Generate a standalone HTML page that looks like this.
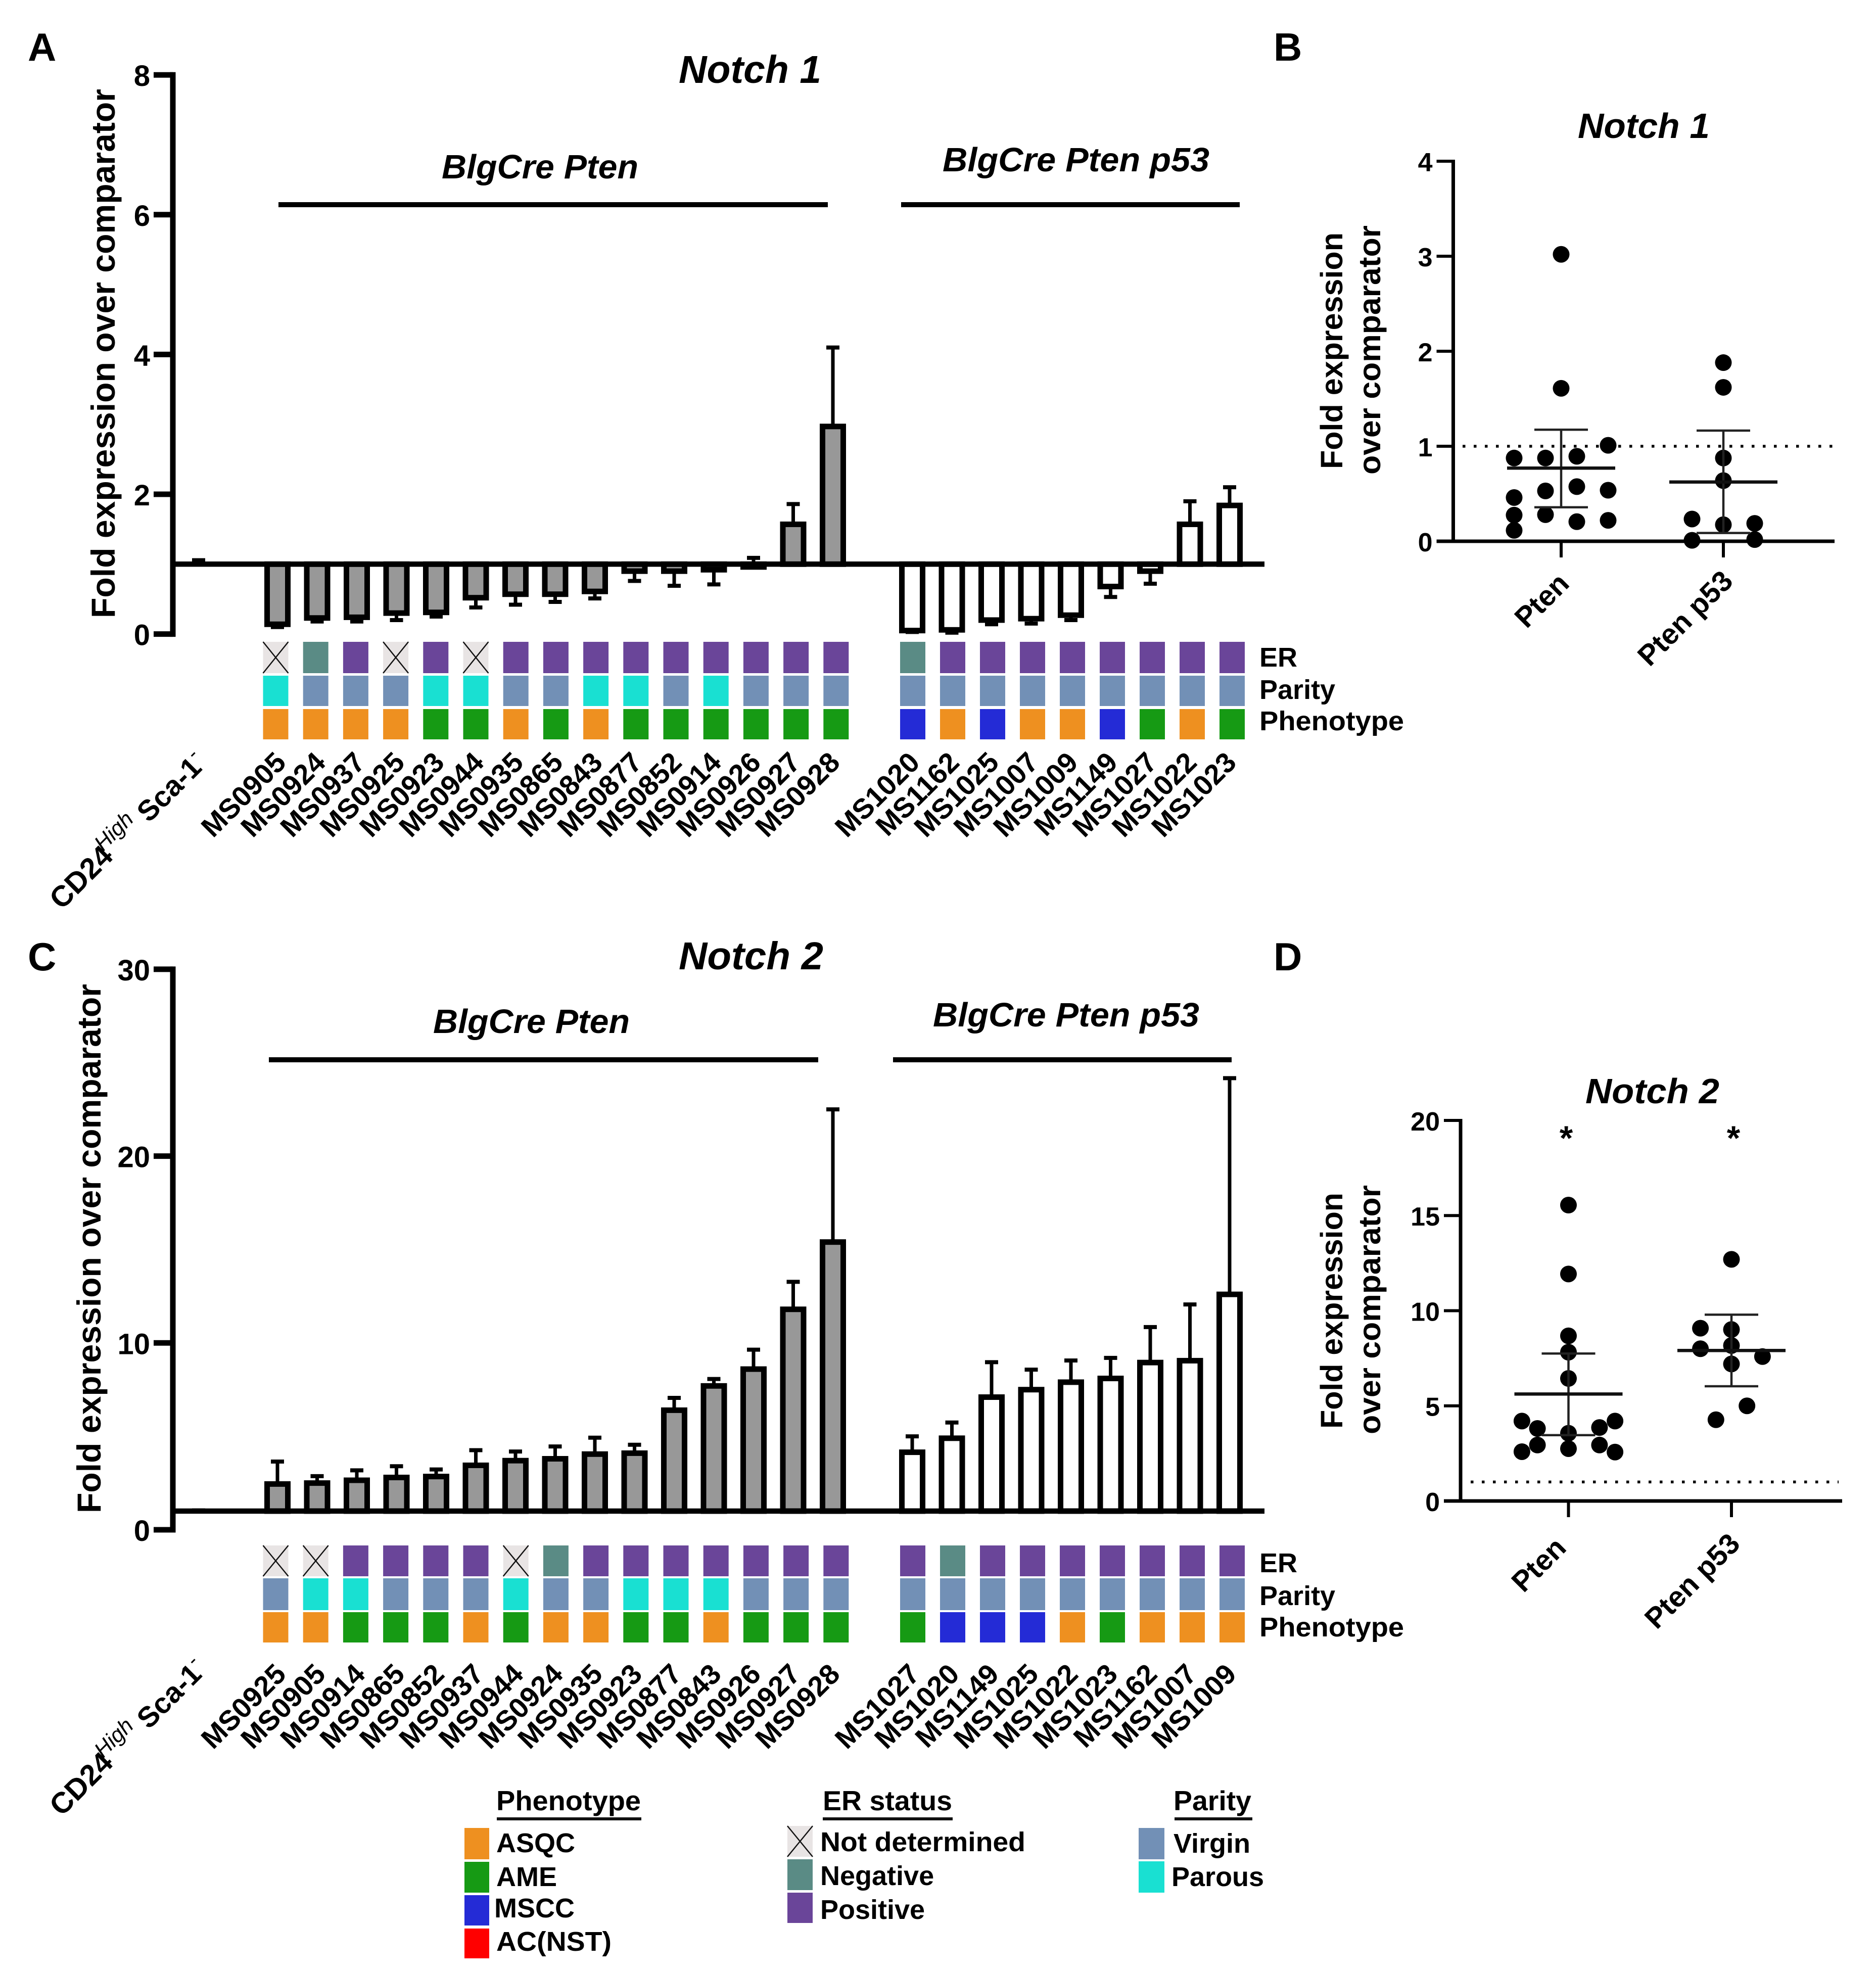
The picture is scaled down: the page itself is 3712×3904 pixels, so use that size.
<!DOCTYPE html>
<html lang="en">
<head>
<meta charset="utf-8">
<title>Notch 1 and Notch 2 expression</title>
<style>
html,body{margin:0;padding:0;background:#fff;}
svg{display:block;}
text{font-family:"Liberation Sans",Arial,sans-serif;font-weight:700;fill:#000;}
.it{font-style:italic;}
</style>
</head>
<body>
<svg id="fig" xmlns="http://www.w3.org/2000/svg" width="3712" height="3904" viewBox="0 0 3712 3904">
  <rect width="3712" height="3904" fill="#ffffff"/>

  <!-- panel letters -->
  <text x="55" y="120" font-size="78">A</text>
  <text x="2520" y="120" font-size="78">B</text>
  <text x="55" y="1920" font-size="78">C</text>
  <text x="2520" y="1920" font-size="78">D</text>

  <!-- panel A static text -->
  <text class="it" x="1343" y="164" font-size="77" textLength="282" lengthAdjust="spacingAndGlyphs">Notch 1</text>
  <text class="it" x="874" y="353" font-size="67" textLength="389" lengthAdjust="spacingAndGlyphs">BlgCre Pten</text>
  <text class="it" x="1865" y="339" font-size="67" textLength="528" lengthAdjust="spacingAndGlyphs">BlgCre Pten p53</text>
  <rect x="551" y="400" width="1087" height="10" fill="#000"/>
  <rect x="1783" y="400" width="670" height="10" fill="#000"/>
  <text transform="translate(227,1223) rotate(-90)" font-size="66" textLength="1047" lengthAdjust="spacingAndGlyphs">Fold expression over comparator</text>
  <text x="2492" y="1319" font-size="54">ER</text>
  <text x="2492" y="1383" font-size="54">Parity</text>
  <text x="2492" y="1445" font-size="54" textLength="286" lengthAdjust="spacingAndGlyphs">Phenotype</text>

  <!-- panel C static text -->
  <text class="it" x="1343" y="1918" font-size="77" textLength="286" lengthAdjust="spacingAndGlyphs">Notch 2</text>
  <text class="it" x="857" y="2044" font-size="67" textLength="389" lengthAdjust="spacingAndGlyphs">BlgCre Pten</text>
  <text class="it" x="1846" y="2031" font-size="67" textLength="527" lengthAdjust="spacingAndGlyphs">BlgCre Pten p53</text>
  <rect x="532" y="2092" width="1087" height="10" fill="#000"/>
  <rect x="1767" y="2092" width="670" height="10" fill="#000"/>
  <text transform="translate(199,2994) rotate(-90)" font-size="66" textLength="1047" lengthAdjust="spacingAndGlyphs">Fold expression over comparator</text>
  <text x="2492" y="3111" font-size="54">ER</text>
  <text x="2492" y="3176" font-size="54">Parity</text>
  <text x="2492" y="3238" font-size="54" textLength="286" lengthAdjust="spacingAndGlyphs">Phenotype</text>

  <!-- panel B static text -->
  <text class="it" x="3122" y="273" font-size="70" textLength="261" lengthAdjust="spacingAndGlyphs">Notch 1</text>
  <text transform="translate(2656,928) rotate(-90)" font-size="61" textLength="468" lengthAdjust="spacingAndGlyphs">Fold expression</text>
  <text transform="translate(2731,939) rotate(-90)" font-size="61" textLength="493" lengthAdjust="spacingAndGlyphs">over comparator</text>

  <!-- panel D static text -->
  <text class="it" x="3137" y="2183" font-size="70" textLength="265" lengthAdjust="spacingAndGlyphs">Notch 2</text>
  <text transform="translate(2656,2827) rotate(-90)" font-size="61" textLength="467" lengthAdjust="spacingAndGlyphs">Fold expression</text>
  <text transform="translate(2731,2838) rotate(-90)" font-size="61" textLength="493" lengthAdjust="spacingAndGlyphs">over comparator</text>
  <text x="3099" y="2275" font-size="68" text-anchor="middle">*</text>
  <text x="3430" y="2275" font-size="68" text-anchor="middle">*</text>

  <!-- legends -->
  <g>
    <text x="982" y="3582" font-size="55" textLength="286" lengthAdjust="spacingAndGlyphs">Phenotype</text>
    <rect x="983" y="3596" width="286" height="6" fill="#111"/>
    <rect x="919" y="3617" width="49" height="62" fill="#EE9020"/>
    <rect x="919" y="3684" width="49" height="61" fill="#169A14"/>
    <rect x="919" y="3750" width="49" height="60" fill="#242BD6"/>
    <rect x="919" y="3816" width="49" height="59" fill="#FF0000"/>
    <text x="982" y="3665" font-size="54">ASQC</text>
    <text x="982" y="3732" font-size="54">AME</text>
    <text x="978" y="3794" font-size="54">MSCC</text>
    <text x="982" y="3860" font-size="54" textLength="228" lengthAdjust="spacingAndGlyphs">AC(NST)</text>
  </g>
  <g>
    <text x="1628" y="3582" font-size="55" textLength="256" lengthAdjust="spacingAndGlyphs">ER status</text>
    <rect x="1628" y="3596" width="257" height="6" fill="#111"/>
    <rect x="1558" y="3613" width="50" height="61" fill="#E8E4E4"/>
    <path d="M1558 3613L1608 3674M1608 3613L1558 3674" stroke="#111" stroke-width="2.5" fill="none"/>
    <rect x="1558" y="3679" width="50" height="61" fill="#5A8B85"/>
    <rect x="1558" y="3745" width="50" height="60" fill="#6A4599"/>
    <text x="1623" y="3663" font-size="54" textLength="406" lengthAdjust="spacingAndGlyphs">Not determined</text>
    <text x="1623" y="3730" font-size="54">Negative</text>
    <text x="1623" y="3797" font-size="54">Positive</text>
  </g>
  <g>
    <text x="2322" y="3582" font-size="55" textLength="154" lengthAdjust="spacingAndGlyphs">Parity</text>
    <rect x="2324" y="3596" width="154" height="6" fill="#111"/>
    <rect x="2253" y="3617" width="51" height="62" fill="#7290B6"/>
    <rect x="2253" y="3683" width="51" height="62" fill="#19E0D2"/>
    <text x="2322" y="3666" font-size="54">Virgin</text>
    <text x="2318" y="3732" font-size="54">Parous</text>
  </g>
</svg>

<script>
// ---------- Panel A data (Notch 1 bars) ----------
const aTicks = [0, 2, 4, 6, 8];
const aComparatorValue = 1.0;
const aComparatorError = 1.06;
const aPtenLabels = ['MS0905','MS0924','MS0937','MS0925','MS0923','MS0944','MS0935','MS0865','MS0843','MS0877','MS0852','MS0914','MS0926','MS0927','MS0928'];
const aPtenValues = [0.14,0.23,0.24,0.30,0.31,0.52,0.57,0.57,0.61,0.90,0.90,0.92,0.96,1.57,2.97];
const aPtenErrors = [0.10,0.18,0.18,0.20,0.25,0.38,0.42,0.46,0.51,0.76,0.69,0.71,1.09,1.86,4.10];
const aP53Labels = ['MS1020','MS1162','MS1025','MS1007','MS1009','MS1149','MS1027','MS1022','MS1023'];
const aP53Values = [0.05,0.06,0.20,0.22,0.27,0.68,0.90,1.57,1.84];
const aP53Errors = [0.03,0.02,0.14,0.15,0.20,0.53,0.72,1.90,2.10];
const aPtenEr = ['x','n','p','x','p','x','p','p','p','p','p','p','p','p','p'];
const aPtenParity = ['P','V','V','V','P','P','V','V','P','P','V','P','V','V','V'];
const aPtenPhenotype = ['o','o','o','o','g','g','o','g','o','g','g','g','g','g','g'];
const aP53Er = ['n','p','p','p','p','p','p','p','p'];
const aP53Parity = ['V','V','V','V','V','V','V','V','V'];
const aP53Phenotype = ['b','o','b','o','o','b','g','o','g'];

// ---------- Panel C data (Notch 2 bars) ----------
const cTicks = [0, 10, 20, 30];
const cComparatorValue = 1.0;
const cComparatorError = 1.05;
const cPtenLabels = ['MS0925','MS0905','MS0914','MS0865','MS0852','MS0937','MS0944','MS0924','MS0935','MS0923','MS0877','MS0843','MS0926','MS0927','MS0928'];
const cPtenValues = [2.45,2.5,2.65,2.8,2.85,3.45,3.7,3.8,4.05,4.1,6.4,7.7,8.6,11.8,15.4];
const cPtenErrors = [3.65,2.87,3.18,3.4,3.23,4.26,4.19,4.46,4.93,4.55,7.06,8.07,9.64,13.27,22.5];
const cP53Labels = ['MS1027','MS1020','MS1149','MS1025','MS1022','MS1023','MS1162','MS1007','MS1009'];
const cP53Values = [4.15,4.9,7.1,7.5,7.9,8.1,8.95,9.05,12.6];
const cP53Errors = [5.0,5.74,8.97,8.57,9.06,9.2,10.85,12.06,24.17];
const cPtenEr = ['x','x','p','p','p','p','x','n','p','p','p','p','p','p','p'];
const cPtenParity = ['V','P','P','V','V','V','P','V','V','P','P','P','V','V','V'];
const cPtenPhenotype = ['o','o','g','g','g','o','g','o','o','g','g','o','g','g','g'];
const cP53Er = ['p','n','p','p','p','p','p','p','p'];
const cP53Parity = ['V','V','V','V','V','V','V','V','V'];
const cP53Phenotype = ['g','b','b','b','o','g','o','o','o'];

// ---------- Panel B data (Notch 1 scatter) ----------
const bTicks = [0, 1, 2, 3, 4];
const bGroups = ['Pten', 'Pten p53'];
const bPtenValues = [3.02,1.61,0.876,0.876,0.894,1.01,0.46,0.53,0.575,0.537,0.275,0.28,0.206,0.22,0.115];
const bPtenColumns = [0,0,-3,-1,1,3,-3,-1,1,3,-3,-1,1,3,-3];
const bP53Values = [1.88,1.62,0.876,0.638,0.234,0.174,0.188,0.01,0.018];
const bP53Columns = [0,0,0,0,-2,0,2,-2,2];
const bMeans = [0.77, 0.624];
const bUppers = [1.174, 1.165];
const bLowers = [0.358, 0.087];

// ---------- Panel D data (Notch 2 scatter) ----------
const dTicks = [0, 5, 10, 15, 20];
const dGroups = ['Pten', 'Pten p53'];
const dPtenValues = [15.55,11.93,8.68,7.82,6.44,4.2,3.81,3.56,3.86,4.2,2.94,2.75,2.94,2.59,2.57];
const dPtenColumns = [0,0,0,0,0,-3,-2,0,2,3,-2,0,2,-3,3];
const dP53Values = [12.7,9.08,9.01,8.0,8.17,7.59,7.2,5.0,4.27];
const dP53Columns = [0,-2,0,-2,0,2,0,1,-1];
const dMeans = [5.62, 7.91];
const dUppers = [7.75, 9.79];
const dLowers = [3.46, 6.03];

const svg = document.getElementById('fig');
const NS = 'http://www.w3.org/2000/svg';
function mk(tag, attrs, parent) {
  const el = document.createElementNS(NS, tag);
  for (const k in attrs) el.setAttribute(k, attrs[k]);
  (parent || svg).appendChild(el);
  return el;
}

// axis functions
const yA = v => 1254.6 - 138.3 * v;
const yC = v => 3027 - 36.97 * v;
const yB = v => 1071 - 188 * v;
const yD = v => 2970 - 37.65 * v;
const barXPten = i => 549 + 78.5 * i;
const barXP53 = i => 1805 + 78.5 * i;
const cellXPten = i => 520.5 + 79.2 * i;
const cellXP53 = i => 1781 + 79 * i;
const labelXPten = i => 569 + 78.3 * i;
const labelXP53 = i => 1823 + 78.3 * i;

const erFill = {x:'#E8E4E4', n:'#5A8B85', p:'#6A4599'};
const parityFill = {V:'#7290B6', P:'#19E0D2'};
const phenotypeFill = {o:'#EE9020', g:'#169A14', b:'#242BD6', r:'#FF0000'};

function drawYAxis(prefix, ticks, y, axisX, tickLeft, labelRight, thick, tickThick, fontSize) {
  const top = y(ticks[ticks.length - 1]);
  const bottom = y(ticks[0]);
  const axis = mk('line', {x1:axisX, x2:axisX, y1:top - tickThick/2, y2:bottom + tickThick/2, stroke:'#000', 'stroke-width':thick});
  
  
  ticks.forEach(t => {
    const tick = mk('line', {x1:tickLeft, x2:axisX, y1:y(t), y2:y(t), stroke:'#000', 'stroke-width':tickThick});
    
    
    const label = mk('text', {x:labelRight, y:y(t) + fontSize * 0.38, 'font-size':fontSize, 'text-anchor':'end'});
    label.textContent = t;
    
    
  });
}

function drawBars(prefix, group, labels, values, errors, y, xOf, fill) {
  const base = y(1);
  values.forEach((v, i) => {
    const cx = xOf(i);
    const stem = mk('line', {x1:cx, x2:cx, y1:y(v), y2:y(errors[i]), stroke:'#000', 'stroke-width':7});
    
    
    const cap = mk('line', {x1:cx - 13, x2:cx + 13, y1:y(errors[i]), y2:y(errors[i]), stroke:'#000', 'stroke-width':8});
    
    
    const top = Math.min(base, y(v));
    const bar = mk('rect', {x:cx - 20.5, y:top, width:41, height:Math.abs(base - y(v)), fill:fill, stroke:'#000', 'stroke-width':11});
    
    
  });
}

function drawCells(prefix, rowName, codes, fills, labels, xOf, top, height) {
  codes.forEach((code, i) => {
    const x = xOf(i);
    const cell = mk('rect', {x:x, y:top, width:50, height:height, fill:fills[code]});
    
    
    if (code === 'x') {
      const cross = mk('path', {d:'M' + x + ' ' + top + 'L' + (x + 50) + ' ' + (top + height) + 'M' + (x + 50) + ' ' + top + 'L' + x + ' ' + (top + height), stroke:'#111', 'stroke-width':2.5, fill:'none'});
      
      
    }
  });
}

function drawXLabels(prefix, labels, xOf, y) {
  labels.forEach((name, i) => {
    const x = xOf(i);
    const t = mk('text', {transform:'translate(' + x + ',' + y + ') rotate(-45)', 'font-size':56, 'text-anchor':'end'});
    t.textContent = name;
    
    
  });
}

function drawComparatorLabel(prefix, ax, ay) {
  const g = mk('g', {transform:'translate(' + ax + ',' + ay + ') rotate(-45)'});
  
  
  const a = mk('text', {x:0, y:0, 'font-size':58}, g);
  a.textContent = 'CD24';
  
  
  const b = mk('text', {x:140, y:-24, 'font-size':43, 'font-style':'italic', style:'font-weight:400'}, g);
  b.textContent = 'High';
  
  
  const c = mk('text', {x:244, y:0, 'font-size':57}, g);
  c.textContent = 'Sca-1';
  
  
  const d = mk('text', {x:396, y:-24, 'font-size':40, style:'font-weight:400'}, g);
  d.textContent = '-';
  
  
}

function drawBarPanel(p) {
  const y = p.y;
  drawYAxis(p.name, p.ticks, y, 342, 304, 297, 11, 11, 58);
  const cStem = mk('line', {x1:393, x2:393, y1:y(p.compValue), y2:y(p.compError), stroke:'#000', 'stroke-width':7});
  
  
  const cCap = mk('line', {x1:380, x2:406, y1:y(p.compError), y2:y(p.compError), stroke:'#000', 'stroke-width':7});
  
  
  drawBars(p.name, 'pten', p.ptenLabels, p.ptenValues, p.ptenErrors, y, barXPten, '#989898');
  drawBars(p.name, 'pten-p53', p.p53Labels, p.p53Values, p.p53Errors, y, barXP53, '#ffffff');
  const baseline = mk('line', {x1:342, x2:2502, y1:y(1), y2:y(1), stroke:'#000', 'stroke-width':10.5});
  
  
  drawCells(p.name, 'er', p.ptenEr, erFill, p.ptenLabels, cellXPten, p.rows[0], p.rows[1]);
  drawCells(p.name, 'parity', p.ptenParity, parityFill, p.ptenLabels, cellXPten, p.rows[2], p.rows[3]);
  drawCells(p.name, 'phenotype', p.ptenPhenotype, phenotypeFill, p.ptenLabels, cellXPten, p.rows[4], p.rows[5]);
  drawCells(p.name, 'er', p.p53Er, erFill, p.p53Labels, cellXP53, p.rows[0], p.rows[1]);
  drawCells(p.name, 'parity', p.p53Parity, parityFill, p.p53Labels, cellXP53, p.rows[2], p.rows[3]);
  drawCells(p.name, 'phenotype', p.p53Phenotype, phenotypeFill, p.p53Labels, cellXP53, p.rows[4], p.rows[5]);
  drawXLabels(p.name, p.ptenLabels, labelXPten, p.labelY);
  drawXLabels(p.name, p.p53Labels, labelXP53, p.labelY);
  drawComparatorLabel(p.name, 122, p.compY);
}

drawBarPanel({name:'panel-a', y:yA, ticks:aTicks, compValue:aComparatorValue, compError:aComparatorError,
  ptenLabels:aPtenLabels, ptenValues:aPtenValues, ptenErrors:aPtenErrors,
  p53Labels:aP53Labels, p53Values:aP53Values, p53Errors:aP53Errors,
  ptenEr:aPtenEr, ptenParity:aPtenParity, ptenPhenotype:aPtenPhenotype,
  p53Er:aP53Er, p53Parity:aP53Parity, p53Phenotype:aP53Phenotype,
  rows:[1270,62,1337,60,1403,60], labelY:1512, compY:1802});

drawBarPanel({name:'panel-c', y:yC, ticks:cTicks, compValue:cComparatorValue, compError:cComparatorError,
  ptenLabels:cPtenLabels, ptenValues:cPtenValues, ptenErrors:cPtenErrors,
  p53Labels:cP53Labels, p53Values:cP53Values, p53Errors:cP53Errors,
  ptenEr:cPtenEr, ptenParity:cPtenParity, ptenPhenotype:cPtenPhenotype,
  p53Er:cP53Er, p53Parity:cP53Parity, p53Phenotype:cP53Phenotype,
  rows:[3058,61,3123,63,3190,60], labelY:3316, compY:3596});

function drawScatter(p) {
  const y = p.y;
  drawYAxis(p.name, p.ticks, y, p.axisX, p.axisX - 33, p.axisX - 41, 7, 6, 52);
  const dotted = mk('line', {x1:p.dotFrom, x2:p.dotTo, y1:y(1), y2:y(1), stroke:'#000', 'stroke-width':5.5, 'stroke-dasharray':'5.5 16.5'});
  
  
  const xAxis = mk('line', {x1:p.axisX - 33, x2:p.axisEnd, y1:y(0), y2:y(0), stroke:'#000', 'stroke-width':7});
  
  
  p.groups.forEach((name, g) => {
    const cx = p.centers[g];
    const key = name.toLowerCase().replace(' ', '-');
    const tick = mk('line', {x1:cx, x2:cx, y1:y(0), y2:y(0) + 32, stroke:'#000', 'stroke-width':6});
    
    
    const label = mk('text', {transform:'translate(' + p.labelEnds[g][0] + ',' + p.labelEnds[g][1] + ') rotate(-45)', 'font-size':57, 'text-anchor':'end'});
    label.textContent = name;
    
    
    p.values[g].forEach((v, i) => {
      const dot = mk('circle', {cx:cx + p.columns[g][i] * p.colStep, cy:y(v), r:16.5, fill:'#000'});
      
      
    });
    const stem = mk('line', {x1:cx, x2:cx, y1:y(p.uppers[g]), y2:y(p.lowers[g]), stroke:'#222', 'stroke-width':4.5});
    
    
    const up = mk('line', {x1:cx - 53, x2:cx + 53, y1:y(p.uppers[g]), y2:y(p.uppers[g]), stroke:'#222', 'stroke-width':4.5});
    
    
    const low = mk('line', {x1:cx - 53, x2:cx + 53, y1:y(p.lowers[g]), y2:y(p.lowers[g]), stroke:'#222', 'stroke-width':4.5});
    
    
    const mean = mk('line', {x1:cx - 107, x2:cx + 107, y1:y(p.means[g]), y2:y(p.means[g]), stroke:'#111', 'stroke-width':6.5});
    
    
  });
}

drawScatter({name:'panel-b', y:yB, ticks:bTicks, axisX:2875.5, axisEnd:3630, dotFrom:2894, dotTo:3626,
  groups:bGroups, centers:[3089,3410], labelEnds:[[3108,1158],[3432,1153]], colStep:31,
  values:[bPtenValues,bP53Values], columns:[bPtenColumns,bP53Columns],
  means:bMeans, uppers:bUppers, lowers:bLowers});

drawScatter({name:'panel-d', y:yD, ticks:dTicks, axisX:2890, axisEnd:3645, dotFrom:2910, dotTo:3638,
  groups:dGroups, centers:[3103.5,3426], labelEnds:[[3102,3066],[3446,3058]], colStep:30.7,
  values:[dPtenValues,dP53Values], columns:[dPtenColumns,dP53Columns],
  means:dMeans, uppers:dUppers, lowers:dLowers});
</script>
</body>
</html>
